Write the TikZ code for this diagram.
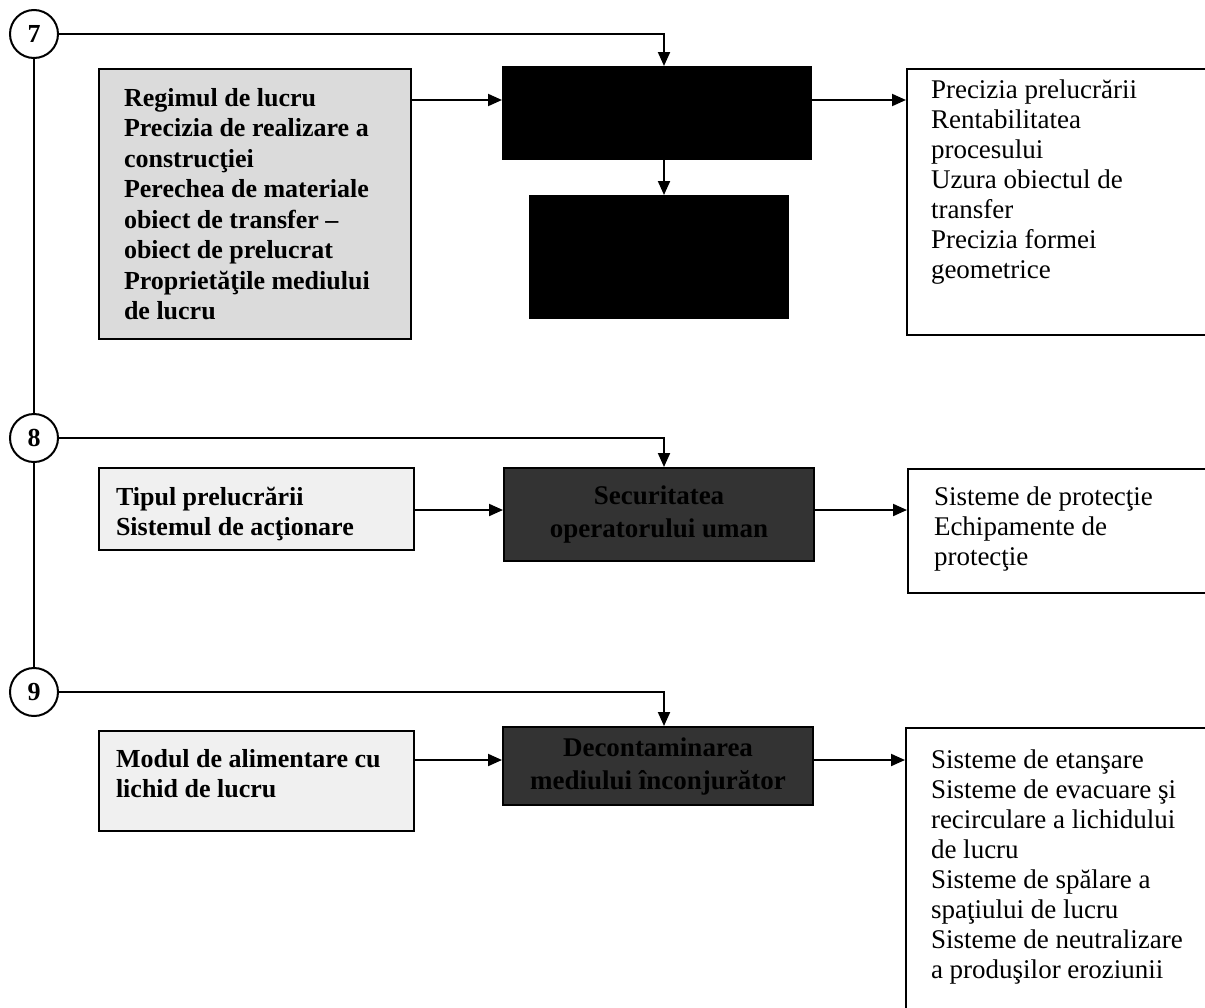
\documentclass[tikz,border=0pt]{standalone}
\usepackage{fontspec}
\setmainfont{Liberation Serif}
\usetikzlibrary{arrows.meta}
\begin{document}
\begin{tikzpicture}[x=1pt,y=-1pt,line width=2pt,
  flow/.style={-{Triangle[length=14pt,width=12pt]}},
  stage/.style={circle,draw,minimum size=48pt,inner sep=0pt,
    font=\bfseries\fontsize{26}{28}\selectfont},
  frame/.style={draw,rectangle,inner sep=0pt,anchor=north west},
  inbox/.style={frame,fill=black!14},
  inboxlight/.style={frame,fill=black!6},
  corebox/.style={frame,fill=black},
  corelit/.style={frame,fill=black!80,align=center,
    font=\bfseries\fontsize{27}{33}\selectfont,text=black},
  outbox/.style={frame,fill=white},
  intext/.style={anchor=north west,inner sep=0pt,align=left,
    font=\bfseries\fontsize{26}{30.5}\selectfont},
  outtext/.style={anchor=north west,inner sep=0pt,align=left,
    font=\fontsize{27}{30}\selectfont}]
\useasboundingbox (0,0) rectangle (1205,1007);
\clip (0,0) rectangle (1205,1007);

% stage markers and their trunk
\node[stage] (c7) at (34,34) {7};
\node[stage] (c8) at (34,438) {8};
\node[stage] (c9) at (34,692) {9};
\draw (c7.south) -- (c8.north);
\draw (c8.south) -- (c9.north);

% ---- stage 7
\node[inbox,minimum width=312pt,minimum height=270pt] (L7) at (98,68) {};
\node[intext] (L7t) at (123,87) {Regimul de lucru\\Precizia de realizare a\\construcţiei\\Perechea de materiale\\obiect de transfer --\\obiect de prelucrat\\Proprietăţile mediului\\de lucru};
\node[corebox,minimum width=308pt,minimum height=92pt] (K7) at (502,66) {};
\node[corebox,minimum width=258pt,minimum height=122pt] (K7b) at (529,195) {};
\node[outbox,minimum width=320pt,minimum height=266pt] (R7) at (906,68) {};
\node[outtext] (R7t) at (930,79) {Precizia prelucrării\\Rentabilitatea\\procesului\\Uzura obiectul de\\transfer\\Precizia formei\\geometrice};

\coordinate (a7) at (0,100);
\draw[flow] (c7.east) -| ([xshift=7pt]K7.north);
\draw[flow] (L7.east |- a7) -- (K7.west |- a7);
\draw[flow] (K7.east |- a7) -- (R7.west |- a7);
\draw[flow] ([xshift=7pt]K7.south) -- ([xshift=7pt]K7.south |- K7b.north);

% ---- stage 8
\node[inboxlight,minimum width=315pt,minimum height=82pt] (L8) at (98,467) {};
\node[intext] (L8t) at (115,486) {Tipul prelucrării\\Sistemul de acţionare};
\node[corelit,minimum width=310pt,minimum height=93pt] (K8) at (503,467) {Securitatea\\operatorului uman};
\node[outbox,minimum width=320pt,minimum height=124pt] (R8) at (907,468) {};
\node[outtext] (R8t) at (933,486) {Sisteme de protecţie\\Echipamente de\\protecţie};

\coordinate (a8) at (0,510);
\draw[flow] (c8.east) -| ([xshift=5pt]K8.north);
\draw[flow] (L8.east |- a8) -- (K8.west |- a8);
\draw[flow] (K8.east |- a8) -- (R8.west |- a8);

% ---- stage 9
\node[inboxlight,minimum width=315pt,minimum height=100pt] (L9) at (98,730) {};
\node[intext] (L9t) at (115,748) {Modul de alimentare cu\\lichid de lucru};
\node[corelit,minimum width=310pt,minimum height=78pt] (K9) at (502,726) {Decontaminarea\\mediului înconjurător};
\node[outbox,minimum width=320pt,minimum height=320pt] (R9) at (905,727) {};
\node[outtext] (R9t) at (930,749) {Sisteme de etanşare\\Sisteme de evacuare şi\\recirculare a lichidului\\de lucru\\Sisteme de spălare a\\spaţiului de lucru\\Sisteme de neutralizare\\a produşilor eroziunii};

\coordinate (a9) at (0,760);
\draw[flow] (c9.east) -| ([xshift=6pt]K9.north);
\draw[flow] (L9.east |- a9) -- (K9.west |- a9);
\draw[flow] (K9.east |- a9) -- (R9.west |- a9);
\end{tikzpicture}
\end{document}
